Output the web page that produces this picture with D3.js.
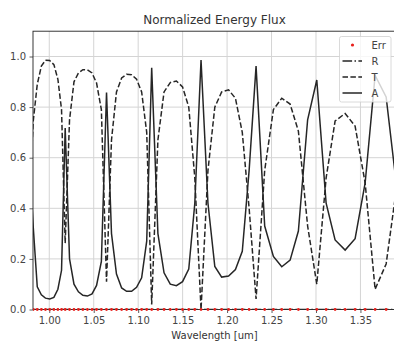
<!DOCTYPE html>
<html><head><meta charset="utf-8">
<script src="https://cdn.jsdelivr.net/npm/d3@7"></script>
<style>body{margin:0;background:#fff}svg{display:block;font-family:"DejaVu Sans",sans-serif}</style>
</head><body>
<svg id="c" width="394" height="342"></svg>
<script>
// wavelength samples [um]
const wavelength = [0.9773,0.9819,0.9865,0.9911,0.9957,1.0005,1.0052,1.0097,1.0138,1.0179,
  1.0228,1.0278,1.0328,1.0378,1.0429,1.0481,1.0532,1.0586,1.0644,
  1.0700,1.0756,1.0814,1.0870,1.0926,1.0982,1.1039,1.1096,1.1152,
  1.1222,1.1291,1.1361,1.1430,1.1499,1.1569,1.1637,1.1707,
  1.1785,1.1862,1.1939,1.2017,1.2094,1.2171,1.2248,1.2326,
  1.2423,1.2521,1.2615,1.2709,1.2802,1.2906,1.3009,
  1.3114,1.3215,1.3328,1.3440,1.3553,1.3665,1.3789,1.3902];
// A (absorbance)
const absorb = [0.62,0.33,0.09,0.058,0.045,0.042,0.048,0.08,0.155,0.717,
  0.2,0.1,0.07,0.056,0.053,0.062,0.095,0.19,0.858,
  0.3,0.14,0.085,0.072,0.072,0.088,0.125,0.27,0.955,
  0.3,0.145,0.1,0.094,0.11,0.16,0.42,0.986,
  0.42,0.17,0.128,0.132,0.158,0.23,0.55,0.962,
  0.33,0.21,0.169,0.195,0.31,0.75,0.907,
  0.42,0.275,0.235,0.28,0.5,0.925,0.84,0.5];
// T (transmittance)
const trans = [0.4,0.742,0.89,0.962,0.985,0.984,0.968,0.91,0.79,0.262,
  0.75,0.9,0.935,0.948,0.947,0.935,0.895,0.79,0.11,
  0.67,0.86,0.915,0.93,0.928,0.91,0.86,0.70,0.02,
  0.67,0.86,0.897,0.903,0.88,0.8,0.52,0.0,
  0.55,0.8,0.86,0.868,0.835,0.7,0.4,0.042,
  0.55,0.79,0.835,0.812,0.705,0.33,0.1,
  0.52,0.745,0.775,0.725,0.5,0.08,0.18,0.47];
// R (reflectance)
const reflect = [0,0,0,0,0,0,0,0,0,0, 0,0,0,0,0,0,0,0,0, 0,0,0,0,0,0,0,0,0,
  0,0,0,0,0,0,0,0, 0,0,0,0,0,0,0,0, 0,0,0,0,0,0,0, 0,0,0,0,0,0,0,0];
// Err
const errv = [0,0,0,0,0,0,0,0,0,0, 0,0,0,0,0,0,0,0,0, 0,0,0,0,0,0,0,0,0,
  0,0,0,0,0,0,0,0, 0,0,0,0,0,0,0,0, 0,0,0,0,0,0,0, 0,0,0,0,0,0,0,0];
const xTicks = [1.00,1.05,1.10,1.15,1.20,1.25,1.30,1.35];
const yTicks = [0.0,0.2,0.4,0.6,0.8,1.0];
const legendLabels = ["Err","R","T","A"];

const svg = d3.select("#c");
const L = 33, R = 396, T = 31.2, B = 309.5;
const x = d3.scaleLinear().domain([0.9817, 1.39]).range([L, R]);
const y = d3.scaleLinear().domain([0, 1.1]).range([B, T]);

svg.append("text").attr("x", 214.5).attr("y", 23.5).attr("text-anchor","middle")
  .attr("font-size", 12).attr("fill","#333").text("Normalized Energy Flux");

// grid
const g = svg.append("g");
g.selectAll(".gx").data(xTicks).join("line")
  .attr("x1", d=>x(d)).attr("x2", d=>x(d)).attr("y1", T).attr("y2", B)
  .attr("stroke","#d4d4d4").attr("stroke-width",1);
g.selectAll(".gy").data(yTicks).join("line")
  .attr("y1", d=>y(d)).attr("y2", d=>y(d)).attr("x1", L).attr("x2", R)
  .attr("stroke","#d4d4d4").attr("stroke-width",1);

svg.append("defs").append("clipPath").attr("id","clip")
  .append("rect").attr("x", L).attr("y", T).attr("width", R-L).attr("height", B-T);
svg.append("defs").append("clipPath").attr("id","clipx")
  .append("rect").attr("x", L).attr("y", T).attr("width", R-L).attr("height", B-T+4);

const idx = d3.range(wavelength.length);
const mk = arr => d3.line().x(i=>x(wavelength[i])).y(i=>y(arr[i]));
const plot = svg.append("g").attr("clip-path","url(#clip)");
const col = "#262626";
plot.append("path").attr("d", mk(reflect)(idx)).attr("fill","none").attr("stroke",col)
  .attr("stroke-width",1.5).attr("stroke-dasharray","9.6,2.4,1.5,2.4");
plot.append("path").attr("d", mk(trans)(idx)).attr("fill","none").attr("stroke",col)
  .attr("stroke-width",1.5).attr("stroke-dasharray","5.5,2.4");
plot.append("path").attr("d", mk(absorb)(idx)).attr("fill","none").attr("stroke",col)
  .attr("stroke-width",1.5);

// axes
const ax = d3.axisBottom(x).tickValues(xTicks).tickFormat(d3.format(".2f")).tickSize(3.5).tickPadding(3.5);
const ay = d3.axisLeft(y).tickValues(yTicks).tickFormat(d3.format(".1f")).tickSize(3.5).tickPadding(3.5);
const gx = svg.append("g").attr("transform",`translate(0,${B})`).call(ax);
const gy = svg.append("g").attr("transform",`translate(${L},0)`).call(ay);
[gx, gy].forEach(a => {
  a.select(".domain").remove();
  a.selectAll("line").attr("stroke","#333").attr("stroke-width",0.8);
  a.selectAll("text").attr("font-size",10).attr("fill","#444").attr("font-family","DejaVu Sans");
});
svg.append("rect").attr("x",L).attr("y",T).attr("width",R-L).attr("height",B-T)
  .attr("fill","none").attr("stroke","#222").attr("stroke-width",0.9);

// Err dots
svg.append("g").attr("clip-path","url(#clipx)").selectAll("circle").data(idx).join("circle")
  .attr("cx", i=>x(wavelength[i])).attr("cy", i=>y(errv[i])).attr("r",1.4).attr("fill","#e8201c");

svg.append("text").attr("x", 214.5).attr("y", 339).attr("text-anchor","middle")
  .attr("font-size", 10).attr("fill","#333").text("Wavelength [um]");

// legend
const lg = svg.append("g");
lg.append("rect").attr("x",339.5).attr("y",36.5).attr("width",51.5).attr("height",65.5).attr("rx",2)
  .attr("fill","#fff").attr("fill-opacity",0.8).attr("stroke","#d0d0d0").attr("stroke-width",0.8);
const rowsY = [45, 61, 77, 93];
const dashes = [null, "9.6,2.4,1.5,2.4", "5.5,2.4", null];
legendLabels.forEach((lab, k) => {
  const yy = rowsY[k];
  if (k === 0) {
    lg.append("circle").attr("cx",352.5).attr("cy",yy).attr("r",1.6).attr("fill","#e8201c");
  } else {
    lg.append("line").attr("x1",342.5).attr("x2",362).attr("y1",yy).attr("y2",yy)
      .attr("stroke",col).attr("stroke-width",1.5).attr("stroke-dasharray",dashes[k]);
  }
  lg.append("text").attr("x",371.5).attr("y",yy+3.6).attr("font-size",10).attr("fill","#444").text(lab);
});
</script>
</body></html>
